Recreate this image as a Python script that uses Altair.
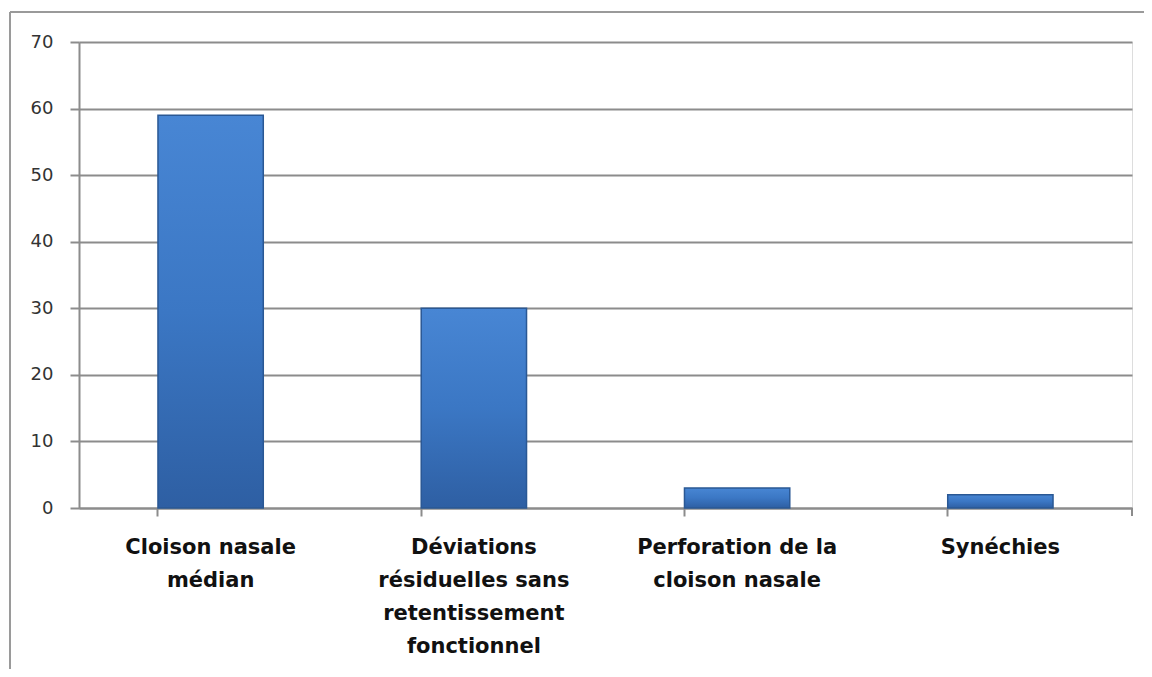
import altair as alt
import pandas as pd

categories = [
    "Cloison nasale\nmédian",
    "Déviations\nrésiduelles sans\nretentissement\nfonctionnel",
    "Perforation de la\ncloison nasale",
    "Synéchies",
]
values = [59, 30, 3, 2]
y_ticks = [0, 10, 20, 30, 40, 50, 60, 70]

df = pd.DataFrame({"cat": categories, "val": values})

W, H = 1053, 466

grad = alt.Gradient(
    gradient="linear",
    stops=[
        alt.GradientStop(color="#4886d4", offset=0),
        alt.GradientStop(color="#3b77c4", offset=0.5),
        alt.GradientStop(color="#2e5fa3", offset=1),
    ],
    x1=0, x2=0, y1=0, y2=1,
)

base = alt.Chart(df)

bars = base.mark_bar(fill=grad, stroke="#2a5894", strokeWidth=1.5).encode(
    x=alt.X(
        "cat:N",
        sort=categories,
        scale=alt.Scale(paddingInner=0.6, paddingOuter=0.3),
        axis=alt.Axis(
            title=None,
            labelAngle=0,
            labelExpr="split(datum.label, '\\n')",
            labelFont="DejaVu Sans",
            labelFontSize=21,
            labelFontWeight="bold",
            labelColor="#111111",
            labelLineHeight=33,
            labelPadding=20,
            labelBaseline="top",
            bandPosition=0,
            tickSize=8,
            tickColor="#8c8c8c",
            tickWidth=2,
            domainColor="#8c8c8c",
            domainWidth=2,
            grid=False,
            labelLimit=300,
        ),
    ),
    y=alt.Y(
        "val:Q",
        scale=alt.Scale(domain=[0, 70], nice=False),
        axis=alt.Axis(
            title=None,
            values=y_ticks,
            labelFont="DejaVu Sans",
            labelFontSize=18,
            labelColor="#333333",
            labelPadding=17,
            tickSize=9,
            tickColor="#8c8c8c",
            tickWidth=2,
            domainColor="#8c8c8c",
            domainWidth=2,
            gridColor="#8c8c8c",
            gridWidth=2,
        ),
    ),
)

end_tick = base.mark_rule(color="#8c8c8c", strokeWidth=2).encode(
    x=alt.value(W), y=alt.value(H), y2=alt.value(H + 8)
)
frame_left = base.mark_rule(color="#9a9a9a", strokeWidth=2).encode(
    x=alt.value(-69), y=alt.value(-30), y2=alt.value(H + 200)
)
frame_top = base.mark_rule(color="#9a9a9a", strokeWidth=2).encode(
    x=alt.value(-69), x2=alt.value(W + 40), y=alt.value(-30)
)

chart = (
    alt.layer(bars, end_tick, frame_left, frame_top)
    .properties(
        width=W,
        height=H,
        autosize=alt.AutoSizeParams(type="none"),
        padding={"left": 71, "top": 34, "right": 12, "bottom": 161},
    )
    .configure_view(stroke=None)
    .configure(background="white")
)

chart.save("out.html", embed_options={"renderer": "svg", "actions": False})
